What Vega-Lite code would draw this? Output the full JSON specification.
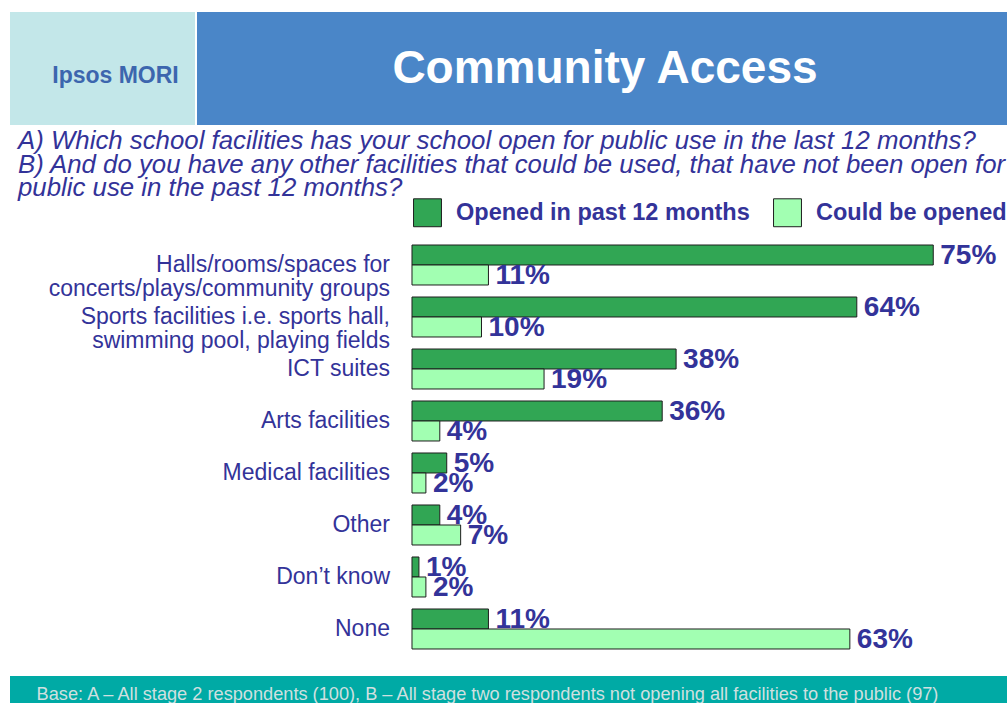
{
  "$schema": "https://vega.github.io/schema/vega-lite/v6.json",
  "padding": {"left": 10, "top": 12, "right": 0, "bottom": 0},
  "background": "white",
  "spacing": 3,
  "resolve": {"scale": {"color": "independent"}, "legend": {"color": "independent"}},
  "config": {
    "font": "Liberation Sans",
    "view": {"stroke": null},
    "concat": {"spacing": 0}
  },
  "vconcat": [
    {
      "spacing": 2,
      "hconcat": [
        {
          "width": 185,
          "height": 113,
          "view": {"fill": "#C3E7E9", "stroke": null},
          "data": {"values": [{"t": "Ipsos MORI"}]},
          "mark": {"type": "text", "font": "Liberation Sans", "fontSize": 23, "fontWeight": "bold", "color": "#3C66AE", "dx": 13, "dy": 7, "baseline": "middle"},
          "encoding": {"text": {"field": "t"}}
        },
        {
          "width": 810,
          "height": 113,
          "view": {"fill": "#4A86C8", "stroke": null},
          "data": {"values": [{"t": "Community Access"}]},
          "mark": {"type": "text", "font": "Liberation Sans", "fontSize": 46, "fontWeight": "bold", "color": "white", "dx": 3, "baseline": "middle"},
          "encoding": {"text": {"field": "t"}}
        }
      ]
    },
    {
      "width": 997,
      "height": 434,
      "view": {"stroke": null},
      "title": {
        "text": [
          "A) Which school facilities has your school open for public use in the last 12 months?",
          "B) And do you have any other facilities that could be used, that have not been open for",
          "public use in the past 12 months?"
        ],
        "anchor": "start",
        "frame": "group",
        "dx": 8,
        "offset": -4,
        "font": "Liberation Sans",
        "fontSize": 25.8,
        "fontStyle": "italic",
        "fontWeight": "normal",
        "color": "#333399",
        "lineHeight": 23.5
      },
      "data": {
        "values": [
          {"facility": "Halls/rooms/spaces for|concerts/plays/community groups", "series": "Opened in past 12 months", "pct": 0.75},
          {"facility": "Halls/rooms/spaces for|concerts/plays/community groups", "series": "Could be opened", "pct": 0.11},
          {"facility": "Sports facilities i.e. sports hall,|swimming pool, playing fields", "series": "Opened in past 12 months", "pct": 0.64},
          {"facility": "Sports facilities i.e. sports hall,|swimming pool, playing fields", "series": "Could be opened", "pct": 0.10},
          {"facility": "ICT suites", "series": "Opened in past 12 months", "pct": 0.38},
          {"facility": "ICT suites", "series": "Could be opened", "pct": 0.19},
          {"facility": "Arts facilities", "series": "Opened in past 12 months", "pct": 0.36},
          {"facility": "Arts facilities", "series": "Could be opened", "pct": 0.04},
          {"facility": "Medical facilities", "series": "Opened in past 12 months", "pct": 0.05},
          {"facility": "Medical facilities", "series": "Could be opened", "pct": 0.02},
          {"facility": "Other", "series": "Opened in past 12 months", "pct": 0.04},
          {"facility": "Other", "series": "Could be opened", "pct": 0.07},
          {"facility": "Don’t know", "series": "Opened in past 12 months", "pct": 0.01},
          {"facility": "Don’t know", "series": "Could be opened", "pct": 0.02},
          {"facility": "None", "series": "Opened in past 12 months", "pct": 0.11},
          {"facility": "None", "series": "Could be opened", "pct": 0.63}
        ]
      },
      "encoding": {
        "y": {
          "field": "facility",
          "type": "nominal",
          "sort": null,
          "scale": {"paddingInner": 0.2308, "paddingOuter": 0.2885, "align": 0.2},
          "axis": null
        }
      },
      "layer": [
        {
          "mark": {"type": "bar", "stroke": "#1E1E1E", "strokeWidth": 1},
          "encoding": {
            "yOffset": {
              "field": "series",
              "type": "nominal",
              "sort": ["Opened in past 12 months", "Could be opened"],
              "scale": {"paddingInner": 0, "paddingOuter": 0}
            },
            "x": {
              "field": "pct",
              "type": "quantitative",
              "scale": {"domain": [-0.5784, 0.8561], "nice": false, "zero": false},
              "axis": null
            },
            "color": {
              "field": "series",
              "type": "nominal",
              "sort": ["Opened in past 12 months", "Could be opened"],
              "scale": {"domain": ["Opened in past 12 months", "Could be opened"], "range": ["#31A654", "#A2FFB2"]},
              "legend": {
                "title": null,
                "orient": "none",
                "direction": "horizontal",
                "legendX": 403,
                "legendY": -41,
                "padding": 0,
                "offset": 0,
                "symbolType": "square",
                "symbolSize": 780,
                "symbolStrokeColor": "#1E1E1E",
                "symbolStrokeWidth": 1,
                "symbolOpacity": 1,
                "labelFont": "Liberation Sans",
                "labelFontSize": 23.5,
                "labelFontWeight": "bold",
                "labelColor": "#333399",
                "labelOffset": 14,
                "columnPadding": 21,
                "labelLimit": 0
              }
            }
          }
        },
        {
          "mark": {"type": "text", "align": "left", "baseline": "middle", "dx": 7, "dy": 1, "font": "Liberation Sans", "fontSize": 28, "fontWeight": "bold", "color": "#333399"},
          "encoding": {
            "yOffset": {
              "field": "series",
              "type": "nominal",
              "sort": ["Opened in past 12 months", "Could be opened"],
              "scale": {"paddingInner": 0, "paddingOuter": 0}
            },
            "x": {"field": "pct", "type": "quantitative"},
            "text": {"field": "pct", "type": "quantitative", "format": ".0%"}
          }
        },
        {
          "transform": [{"filter": "datum.series === 'Opened in past 12 months'"}],
          "mark": {"type": "text", "align": "right", "baseline": "middle", "dx": -22, "dy": 0.5, "lineBreak": "|", "lineHeight": 24, "font": "Liberation Sans", "fontSize": 23, "color": "#333399"},
          "encoding": {
            "x": {"datum": 0},
            "text": {"field": "facility"}
          }
        }
      ]
    },
    {
      "width": 997,
      "height": 27,
      "view": {"fill": "#00AAA5", "stroke": null},
      "data": {"values": [{"t": "Base: A – All stage 2 respondents (100), B – All stage two respondents not opening all facilities to the public (97)"}]},
      "mark": {"type": "text", "font": "Liberation Sans", "fontSize": 18.2, "color": "#CFE0E0", "dx": -21, "dy": 5, "baseline": "middle"},
      "encoding": {"text": {"field": "t"}}
    }
  ]
}
